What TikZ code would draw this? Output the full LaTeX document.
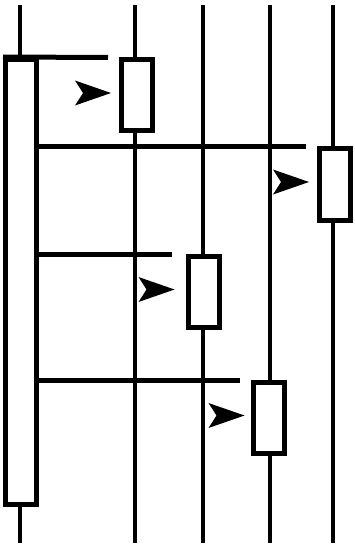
\documentclass[tikz,border=0pt]{standalone}
\usetikzlibrary{arrows.meta,positioning}
\tikzset{
 lifeline/.style={line width=4.6pt,draw=black},
 act/.style={rectangle,draw=black,line width=5pt,fill=white,inner sep=0pt,minimum width=31pt,minimum height=71pt},
 msg/.style={line width=5pt,draw=black},
 head/.pic={\fill[black] (0,0) -- (-36,-12.5) -- (-28,0) -- (-36,12.5) -- cycle;}}
\begin{document}
\begin{tikzpicture}[x=1pt,y=-1pt]
\useasboundingbox (0,0) rectangle (354,548);
% lifelines
\foreach \x/\n in {20/0,135/1,203/2,270/3,333/4}{
 \coordinate (top\n) at (\x,5); \coordinate (bot\n) at (\x,543);
 \draw[lifeline] (top\n) -- (bot\n);}
% activations
\node[act,minimum height=445pt] (act0) at (21,282) {};
\node[act] (act1) at (137,95.5) {};
\node[act] (act4) at (335,184.5) {};
\node[act] (act2) at (203.5,292) {};
\node[act] (act3) at (268.5,418) {};
% message ends and heads
\coordinate[left=11pt of act1.north west] (m1);
\coordinate[left=11pt of act4.north west] (m2);
\coordinate[left=14pt of act2.north west] (m3);
\coordinate[left=11pt of act3.north west] (m4);
\coordinate[above left=2.5pt and 8pt of act1.west] (h1);
\coordinate[above left=2.5pt and 8pt of act4.west] (h2);
\coordinate[above left=2.5pt and 11pt of act2.west] (h3);
\coordinate[above left=2.5pt and 6pt of act3.west] (h4);
\draw[msg] (act0.north west) -- (m1); \draw[msg] (act0.east |- m2) -- (m2);
\draw[msg] (act0.east |- m3) -- (m3); \draw[msg] (act0.east |- m4) -- (m4);
\node[act,minimum height=445pt] at (act0) {};
\pic at (h1) {head}; \pic at (h2) {head}; \pic at (h3) {head}; \pic at (h4) {head};
\end{tikzpicture}
\end{document}
